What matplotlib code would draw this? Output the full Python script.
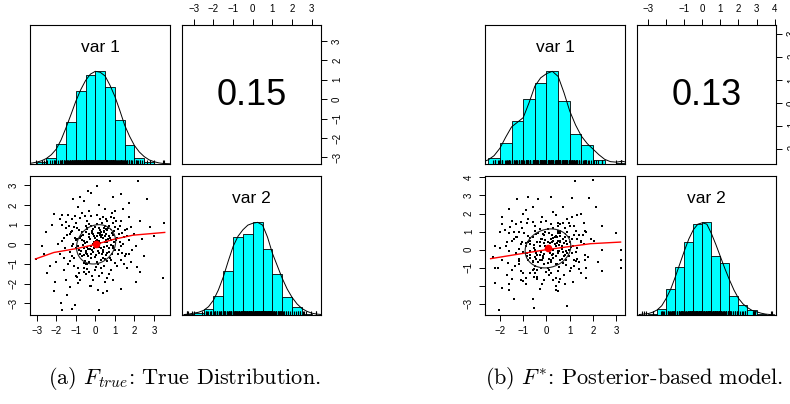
import numpy as np
import matplotlib.pyplot as plt

plt.rcParams['font.family'] = ['Liberation Sans', 'DejaVu Sans']
plt.rcParams['mathtext.fontset'] = 'cm'

# ---------------- (a) F_true : True Distribution ----------------
pts_a = [
    (0.1, 0.2), (-0.3, 0.5), (0.4, -0.3), (-0.6, -0.2), (0.7, 0.4), (0.2, 0.8), (-0.2, -0.7), (0.5, 0.1), (-0.8, 0.3), (0.3, -0.8),
    (-0.1, 0.0), (0.6, 0.7), (-0.5, 0.6), (0.9, -0.2), (-0.4, -0.5), (0.15, -0.35), (-0.7, -0.6), (0.8, 0.2), (0.0, 0.9), (-0.9, -0.1),
    (0.35, 0.45), (-0.25, 0.25), (0.55, -0.55), (-0.45, 0.1), (0.05, -0.55), (0.7, -0.4), (-0.15, 0.65), (0.45, 0.85), (-0.65, 0.45), (0.25, 0.05),
    (-0.35, -0.25), (0.85, 0.55), (-0.05, 0.4), (0.6, -0.1), (-0.55, -0.85), (0.1, -0.9), (-0.85, 0.7), (0.4, 0.3), (-0.2, -0.1), (0.95, 0.1),
    (0.3, 0.6), (-0.75, -0.35), (0.2, -0.15), (-0.4, 0.85), (0.65, 0.25), (-0.1, -0.4), (0.5, -0.75), (-0.6, 0.15), (0.75, -0.7), (0.0, 0.3),
    (-0.3, -0.9), (0.15, 0.55), (-0.95, 0.25), (0.55, 0.5), (-0.2, 0.95), (0.35, -0.5), (-0.5, -0.45), (0.8, -0.05), (-0.05, -0.2), (0.45, 0.65),
    (0.05, 0.15), (-0.15, 0.55), (0.45, -0.15), (-0.65, -0.05), (0.75, 0.3), (0.25, 0.7), (-0.35, -0.6), (0.55, 0.2), (-0.75, 0.4), (0.4, -0.7),
    (-0.05, 0.1), (0.65, 0.85), (-0.45, 0.75), (1.0, -0.3), (-0.5, -0.35), (0.2, -0.45), (-0.8, -0.5), (0.9, 0.45), (0.1, 1.05), (-1.0, -0.2),
    (0.3, 0.35), (-0.3, 0.35), (0.6, -0.45), (-0.55, 0.05), (0.0, -0.65), (0.85, -0.5), (-0.1, 0.75), (0.5, 0.95), (-0.7, 0.6), (0.2, 0.15),
    (-0.4, -0.15), (0.95, 0.65), (-0.1, 0.5), (0.7, -0.2), (-0.6, -0.95), (0.15, -1.0), (-0.95, 0.8), (0.5, 0.4), (-0.25, -0.25), (1.05, 0.2),
    (0.25, 0.45), (-0.85, -0.3), (0.3, -0.2), (-0.5, 0.95), (0.6, 0.1), (-0.2, -0.5), (0.6, -0.85), (-0.7, 0.2), (0.8, -0.8), (0.1, 0.4),
    (-0.4, -1.0), (0.25, 0.55), (-1.05, 0.3), (0.45, 0.6), (-0.3, 1.05), (0.4, -0.4), (-0.6, -0.55), (0.9, -0.1), (-0.15, -0.3), (0.55, 0.75),
    (1.2, 0.5), (-1.3, -0.4), (0.4, 1.4), (-0.5, -1.5), (1.5, -0.6), (-1.1, 0.9), (0.9, 1.1), (-0.9, -1.2), (1.7, 0.2), (-1.6, 0.3),
    (0.2, -1.6), (-0.3, 1.7), (1.3, 1.2), (-1.4, -1.0), (1.1, -1.1), (-1.2, 1.3), (1.8, 0.9), (-1.8, -0.5), (0.7, -1.5), (-0.7, 1.6),
    (1.4, 0.0), (-1.5, 0.8), (0.0, -1.3), (0.1, 1.5), (1.6, -1.2), (-1.0, -1.6), (1.0, 1.7), (-1.7, 1.0), (1.9, -0.3), (-1.9, 0.0),
    (0.5, -1.9), (-0.4, 1.2), (1.2, -0.3), (-1.2, -0.1), (0.8, 1.4), (-0.8, -1.8), (1.5, 0.7), (-1.3, 0.5), (0.3, -1.2), (-0.1, -1.8),
    (1.1, 0.3), (-1.1, -0.7), (0.6, 1.2), (-0.6, -1.2), (1.3, -0.8), (-1.4, 1.5), (1.7, 1.4), (-1.6, -1.3), (0.9, -1.8), (-0.9, 1.9),
    (2.0, 0.5), (-2.0, -0.9), (0.2, 2.0), (-0.2, -2.1), (1.0, 0.9), (-1.0, 0.2), (0.5, 1.8), (-0.5, -1.0), (1.4, 1.8), (-1.5, -1.8),
    (1.8, -0.9), (-1.8, 1.3), (0.7, 0.95), (-0.3, -1.4), (1.25, 0.1), (-1.25, 0.6), (0.35, 1.1), (-0.45, -1.25), (1.6, 0.4), (-1.55, -0.2),
    (1.15, 0.75), (-1.2, -0.6), (0.55, 1.3), (-0.6, -1.4), (1.35, -0.45), (-1.0, 1.1), (1.05, 1.2), (-1.1, -1.1), (1.45, 0.35), (-1.45, 0.45),
    (0.35, -1.45), (-0.2, 1.45), (1.25, 0.95), (-1.3, -0.85), (1.0, -0.95), (-1.05, 1.45), (1.6, 0.75), (-1.6, -0.7), (0.8, -1.3), (-0.8, 1.35),
    (1.3, -0.1), (-1.35, 0.95), (0.05, -1.15), (0.25, 1.3), (1.45, -1.0), (-0.85, -1.45), (0.85, 1.6), (-1.5, 1.15), (1.7, -0.5), (-1.7, 0.15),
    (0.6, -1.7), (-0.55, 1.45), (1.15, -0.5), (-1.15, 0.0), (0.95, 1.35), (-0.95, -1.65), (1.35, 0.55), (-1.2, 0.65), (0.45, -1.1), (-0.15, -1.6),
    (0.75, 3.2), (2.2, 3.2), (0.07, 2.95), (-0.36, 2.7), (-1.16, 2.3), (-0.79, 2.41), (2.63, 2.29), (1.3, 2.53), (-2.1, 1.56), (-1.69, 1.48),
    (-2.54, 0.6), (-2.74, -0.1), (-3.05, -0.77), (-2.49, -1.48), (-2.06, -1.9), (-2.1, -2.37), (-1.47, -2.58), (-1.76, -2.97), (-1.72, -3.35),
    (-1.04, -3.09), (-1.2, -3.3), (0.19, -3.35), (0.15, -2.33), (0.4, -2.5), (-0.9, -1.95), (-0.26, -2.1), (2.12, -1.15), (2.28, -1.4),
    (3.44, -1.74), (3.53, 1.06), (3.0, 0.4), (2.4, 0.25), (2.1, -0.1), (1.55, -0.5),
    (2.3, 1.2), (-2.3, -1.1), (2.1, -1.9), (-2.2, 1.0), (0.9, 2.4), (-0.6, 2.2), (1.7, 2.1), (-1.3, -2.2), (2.5, -0.6), (-2.6, -0.5),
    (0.6, -2.4), (-0.2, 2.6), (1.3, -2.3), (2.8, 0.9),
]
r_a = "0.15"
r_val_a = 0.15
sd_a = (1.0, 1.0)
lim1_a = (-3.34, 3.82)
lim2_a = (-3.6, 3.47)
ticks1_a = [-3, -2, -1, 0, 1, 2, 3]
ticks2_a = [-3, -2, -1, 0, 1, 2, 3]
labels1_a = ["−3", "−2", "−1", "0", "1", "2", "3"]
labels2_a = ["−3", "−2", "−1", "0", "1", "2", "3"]

breaks_a1 = [-3.5, -3.0, -2.5, -2.0, -1.5, -1.0, -0.5, 0.0, 0.5, 1.0, 1.5, 2.0, 2.5, 3.0, 3.5]
hist_a1 = [0.005, 0.025, 0.07, 0.22, 0.45, 0.79, 0.96, 1.0, 0.83, 0.47, 0.21, 0.07, 0.025, 0.005]
breaks_a2 = [-3.5, -3.0, -2.5, -2.0, -1.5, -1.0, -0.5, 0.0, 0.5, 1.0, 1.5, 2.0, 2.5, 3.0, 3.5]
hist_a2 = [0.01, 0.02, 0.06, 0.205, 0.48, 0.845, 0.875, 1.0, 0.715, 0.44, 0.19, 0.09, 0.01, 0.0]

dens_grid = [-3.5, -3.25, -3.0, -2.75, -2.5, -2.25, -2.0, -1.75, -1.5, -1.25, -1.0, -0.75, -0.5, -0.25,
             0.0, 0.25, 0.5, 0.75, 1.0, 1.25, 1.5, 1.75, 2.0, 2.25, 2.5, 2.75, 3.0, 3.25, 3.5, 3.75, 4.0]
dens_a1 = [0.005, 0.01, 0.02, 0.035, 0.06, 0.1, 0.16, 0.26, 0.39, 0.53, 0.675, 0.8, 0.9, 0.97,
           1.0, 0.99, 0.95, 0.85, 0.73, 0.58, 0.42, 0.3, 0.2, 0.13, 0.08, 0.045, 0.025, 0.012, 0.005, 0.003, 0.001]
dens_a2 = [0.005, 0.01, 0.02, 0.03, 0.05, 0.09, 0.16, 0.27, 0.41, 0.58, 0.74, 0.85, 0.92, 0.97,
           0.99, 1.0, 0.97, 0.84, 0.665, 0.53, 0.395, 0.28, 0.19, 0.12, 0.07, 0.04, 0.02, 0.01, 0.005, 0.002, 0.001]

loess_a_x = [-3.06, -2.12, -0.9, 0.0, 0.99, 1.93, 3.55]
loess_a_y = [-0.75, -0.42, -0.21, -0.01, 0.26, 0.46, 0.6]

# ---------------- (b) F* : Posterior-based model ----------------
pts_b = [
    (0.2, 0.1), (-0.4, 0.4), (0.5, -0.2), (-0.7, -0.3), (0.6, 0.5), (0.1, 0.9), (-0.1, -0.8), (0.4, 0.2), (-0.9, 0.2), (0.2, -0.7),
    (0.0, 0.1), (0.7, 0.6), (-0.6, 0.7), (0.8, -0.3), (-0.3, -0.6), (0.25, -0.3), (-0.6, -0.7), (0.9, 0.3), (-0.05, 1.0), (-0.85, -0.2),
    (0.3, 0.5), (-0.3, 0.2), (0.6, -0.6), (-0.5, 0.0), (0.1, -0.5), (0.75, -0.35), (-0.2, 0.6), (0.5, 0.9), (-0.7, 0.5), (0.3, 0.0),
    (-0.4, -0.3), (0.8, 0.7), (-0.1, 0.35), (0.55, -0.05), (-0.5, -0.9), (0.05, -1.0), (-0.8, 0.75), (0.45, 0.35), (-0.25, -0.15), (0.95, 0.0),
    (0.35, 0.7), (-0.7, -0.45), (0.15, -0.2), (-0.35, 0.95), (0.65, 0.2), (-0.15, -0.45), (0.45, -0.8), (-0.55, 0.25), (0.7, -0.75), (0.05, 0.45),
    (-0.25, -1.0), (0.2, 0.6), (-0.9, 0.35), (0.6, 0.45), (-0.15, 0.85), (0.3, -0.45), (-0.45, -0.5), (0.85, -0.1), (-0.1, -0.25), (0.4, 0.75),
    (0.1, 0.2), (-0.25, 0.6), (0.5, -0.1), (-0.7, -0.1), (0.75, 0.35), (0.25, 0.8), (-0.35, -0.7), (0.55, 0.25), (-0.8, 0.45), (0.4, -0.8),
    (-0.05, 0.2), (0.6, 0.9), (-0.45, 0.85), (0.95, -0.35), (-0.5, -0.4), (0.2, -0.55), (-0.8, -0.55), (0.85, 0.5), (0.05, 1.15), (-1.0, -0.15),
    (0.35, 0.3), (-0.3, 0.4), (0.65, -0.5), (-0.55, 0.1), (0.05, -0.75), (0.85, -0.55), (-0.1, 0.8), (0.5, 1.05), (-0.7, 0.65), (0.2, 0.1),
    (-0.45, -0.2), (0.95, 0.7), (-0.05, 0.55), (0.7, -0.15), (-0.55, -1.05), (0.1, -1.1), (-0.95, 0.9), (0.5, 0.5), (-0.3, -0.3), (1.05, 0.15),
    (0.25, 0.4), (-0.85, -0.35), (0.3, -0.25), (-0.5, 1.05), (0.65, 0.05), (-0.2, -0.55), (0.55, -0.95), (-0.7, 0.3), (0.85, -0.85), (0.15, 0.35),
    (-0.4, -1.1), (0.3, 0.65), (-1.05, 0.4), (0.45, 0.7), (-0.3, 1.15), (0.4, -0.35), (-0.6, -0.65), (0.9, -0.2), (-0.15, -0.35), (0.6, 0.75),
    (1.1, 0.6), (-1.2, -0.5), (0.5, 1.5), (-0.4, -1.6), (1.4, -0.7), (-1.2, 1.0), (0.8, 1.2), (-1.0, -1.3), (1.6, 0.3), (-1.7, 0.4),
    (0.3, -1.7), (-0.2, 1.8), (1.2, 1.3), (-1.5, -1.1), (1.0, -1.2), (-1.3, 1.4), (1.7, 1.0), (-1.9, -0.6), (0.6, -1.6), (-0.8, 1.7),
    (1.3, 0.1), (-1.6, 0.9), (0.1, -1.4), (0.0, 1.6), (1.5, -1.3), (-1.1, -1.7), (1.1, 1.8), (-1.8, 1.1), (1.8, -0.4), (-2.0, 0.1),
    (0.4, -2.0), (-0.5, 1.3), (1.1, -0.2), (-1.3, -0.2), (0.7, 1.5), (-0.9, -1.9), (1.4, 0.8), (-1.4, 0.6), (0.2, -1.3), (-0.2, -1.9),
    (1.0, 0.4), (-1.2, -0.8), (0.5, 1.3), (-0.7, -1.3), (1.2, -0.9), (-1.5, 1.6), (1.6, 1.5), (-1.7, -1.4), (0.8, -1.9), (-1.0, 2.0),
    (1.9, 0.6), (-2.1, -1.0), (0.3, 2.1), (-0.3, -2.2), (0.9, 1.0), (-1.1, 0.3), (0.4, 1.9), (-0.6, -1.1), (1.3, 1.9), (-1.6, -1.9),
    (1.7, -1.0), (-1.9, 1.4), (0.6, 1.05), (-0.4, -1.5), (1.15, 0.2), (-1.3, 0.7), (0.3, 1.2), (-0.5, -1.3), (1.5, 0.5), (-1.6, -0.1),
    (1.2, 0.8), (-1.2, -0.65), (0.6, 1.4), (-0.55, -1.5), (1.3, -0.5), (-1.05, 1.2), (1.0, 1.3), (-1.1, -1.2), (1.5, 0.4), (-1.5, 0.5),
    (0.4, -1.55), (-0.25, 1.55), (1.25, 1.05), (-1.35, -0.9), (1.05, -1.0), (-1.1, 1.55), (1.55, 0.8), (-1.65, -0.75), (0.75, -1.4), (-0.85, 1.45),
    (1.25, -0.15), (-1.4, 1.0), (0.0, -1.25), (0.2, 1.4), (1.4, -1.05), (-0.9, -1.55), (0.9, 1.7), (-1.55, 1.25), (1.65, -0.55), (-1.75, 0.2),
    (0.55, -1.8), (-0.6, 1.55), (1.2, -0.55), (-1.2, 0.05), (0.95, 1.45), (-1.0, -1.75), (1.3, 0.6), (-1.25, 0.7), (0.5, -1.2), (-0.1, -1.7),
    (1.24, 3.81), (2.0, 3.85), (0.21, 2.94), (-0.8, 2.94), (-1.26, 2.8), (-0.38, 2.8), (1.1, 2.85), (1.82, 2.85), (-1.62, 2.24), (-1.93, 1.81),
    (-0.6, 2.35), (0.69, 2.35), (2.12, 2.35), (2.39, 1.31), (3.0, 0.94), (3.18, 0.0), (3.18, -0.6), (3.18, -1.0), (2.39, -1.2), (2.4, 0.0),
    (-2.22, 0.2), (-2.22, -1.0), (-2.19, -1.87), (-1.93, -2.1), (-1.62, -2.25), (-1.4, -2.76), (-2.05, -3.32), (-0.57, -2.76), (-0.54, -3.22),
    (0.39, -2.26), (0.89, -3.13), (1.15, -1.81), (1.71, -1.55), (1.64, -0.28), (1.28, -0.65), (2.03, 0.48), (1.64, 1.04),
    (-2.0, 1.0), (-1.5, -1.6), (2.2, -0.7), (0.5, -2.3), (-0.9, 2.2), (1.5, 2.0), (-2.3, -0.4),
]
r_b = "0.13"
r_val_b = 0.13
sd_b = (0.98, 1.08)
lim1_b = (-2.64, 3.37)
lim2_b = (-3.62, 4.08)
ticks1_b = [-2, -1, 0, 1, 2, 3]
ticks2_b = [-3, -2, -1, 0, 1, 2, 3, 4]
labels1_b = ["−2", "−1", "0", "1", "2", "3"]
labels2_b = ["−3", "", "−1", "0", "1", "2", "3", "4"]

breaks_b1 = [-2.5, -2.0, -1.5, -1.0, -0.5, 0.0, 0.5, 1.0, 1.5, 2.0, 2.5, 3.0, 3.5]
hist_b1 = [0.06, 0.225, 0.46, 0.70, 0.875, 1.0, 0.685, 0.32, 0.205, 0.045, 0.0, 0.008]
breaks_b2 = [-3.5, -3.0, -2.5, -2.0, -1.5, -1.0, -0.5, 0.0, 0.5, 1.0, 1.5, 2.0, 2.5, 3.0, 3.5, 4.0]
hist_b2 = [0.005, 0.01, 0.07, 0.28, 0.52, 0.785, 0.98, 1.0, 0.635, 0.56, 0.205, 0.11, 0.055, 0.01, 0.005]

dens_b1 = [0.0, 0.0, 0.005, 0.02, 0.045, 0.09, 0.17, 0.29, 0.40, 0.45, 0.50, 0.66, 0.84, 0.93,
           0.975, 1.0, 0.945, 0.77, 0.57, 0.42, 0.30, 0.22, 0.16, 0.1, 0.05, 0.025, 0.02, 0.03, 0.015, 0.005, 0.0]
dens_b2 = [0.005, 0.01, 0.015, 0.03, 0.055, 0.1, 0.18, 0.28, 0.41, 0.55, 0.69, 0.82, 0.92, 0.98,
           0.995, 0.98, 0.88, 0.76, 0.63, 0.5, 0.38, 0.27, 0.18, 0.12, 0.08, 0.05, 0.035, 0.02, 0.01, 0.005, 0.002]

loess_b_x = [-2.4, -1.26, 0.0, 1.89, 3.18]
loess_b_y = [-0.5, -0.26, 0.0, 0.33, 0.42]


W, H = 790, 404
fig = plt.figure(figsize=(W / 100, H / 100), dpi=100)


def box(x0, y0, x1, y1):
    return fig.add_axes([x0 / W, 1 - y1 / H, (x1 - x0) / W, (y1 - y0) / H])


def style(ax):
    for s in ax.spines.values():
        s.set_linewidth(0.8)
    ax.tick_params(length=4.5, width=0.7, labelsize=7, pad=3.5, colors='black')
    ax.set_xticks([])
    ax.set_yticks([])


def hist_panel(ax, breaks, heights, dens, rug, lim, name):
    style(ax)
    br = np.array(breaks)
    ax.bar(br[:-1], heights, width=np.diff(br), align='edge', color='#00ffff',
           edgecolor='black', linewidth=0.6)
    ax.plot(dens_grid, dens, color='black', linewidth=0.7)
    ax.vlines(rug, 0, 0.045, color='black', linewidth=0.8)
    ax.set_xlim(lim)
    ax.set_ylim(0, 1.5)
    ax.text(0.5, 0.835, name, transform=ax.transAxes, ha='center', va='center', fontsize=12.5)


def cor_panel(ax, txt, xlim, ylim, xt, xl, yt, yl):
    style(ax)
    ax.set_xlim(xlim)
    ax.set_ylim(ylim)
    ax.xaxis.tick_top()
    ax.yaxis.tick_right()
    ax.set_xticks(xt, xl)
    ax.set_yticks(yt, yl)
    ax.tick_params(axis='y', labelrotation=90)
    for t in ax.get_yticklabels():
        t.set_va('center')
    ax.text(0.5, 0.49, txt, transform=ax.transAxes, ha='center', va='center', fontsize=26)


def scatter_panel(ax, xs, ys, xlim, ylim, xt, xl, yt, yl, r, sd, lx, ly):
    style(ax)
    ax.plot(xs, ys, linestyle='none', marker='s', markersize=1.5, markeredgewidth=0, color='black')
    ax.plot(lx, ly, color='red', linewidth=1.0)
    # correlation ellipse at one standard deviation (as in psych::pairs.panels)
    ang = np.linspace(0, 2 * np.pi, 101)
    th = np.sign(r) / np.sqrt(2)
    shape = np.diag([np.sqrt(1 + r), np.sqrt(1 - r)]) @ np.array([[th, th], [-th, th]])
    ell = np.column_stack([np.cos(ang), np.sin(ang)]) @ shape
    cx, cy = np.mean(xs), np.mean(ys)
    ax.plot(ell[:, 0] * sd[0] + cx, ell[:, 1] * sd[1] + cy, color='#222222', linewidth=0.8)
    ax.plot([cx], [cy], marker='o', markersize=5.5, color='red', markeredgewidth=0)
    ax.set_xlim(xlim)
    ax.set_ylim(ylim)
    ax.set_xticks(xt, xl)
    ax.set_yticks(yt, yl)
    ax.tick_params(axis='y', labelrotation=90)
    for t in ax.get_yticklabels():
        t.set_va('center')


for pts, r_txt, r_val, sd, lim1, lim2, t1, l1, t2, l2, b1, h1, b2, h2, d1, d2, lx, ly, x0 in [
    (pts_a, r_a, r_val_a, sd_a, lim1_a, lim2_a, ticks1_a, labels1_a, ticks2_a, labels2_a,
     breaks_a1, hist_a1, breaks_a2, hist_a2, dens_a1, dens_a2, loess_a_x, loess_a_y, 30),
    (pts_b, r_b, r_val_b, sd_b, lim1_b, lim2_b, ticks1_b, labels1_b, ticks2_b, labels2_b,
     breaks_b1, hist_b1, breaks_b2, hist_b2, dens_b1, dens_b2, loess_b_x, loess_b_y, 485),
]:
    v1 = [p[0] for p in pts]
    v2 = [p[1] for p in pts]
    hist_panel(box(x0, 25, x0 + 140, 164), b1, h1, d1, v1, lim1, "var 1")
    cor_panel(box(x0 + 152, 25, x0 + 291, 164), r_txt, lim2, lim1, t2, l2, t1, l1)
    scatter_panel(box(x0, 176, x0 + 140, 315), v1, v2, lim1, lim2, t1, l1, t2, l2, r_val, sd, lx, ly)
    hist_panel(box(x0 + 152, 176, x0 + 291, 315), b2, h2, d2, v2, lim2, "var 2")

fig.text(184 / W, 1 - 379 / H, r'(a) $F_{true}$: True Distribution.', family='cmr10',
         fontsize=16, ha='center', va='center')
fig.text(634 / W, 1 - 379 / H, r'(b) $F^{*}$: Posterior-based model.', family='cmr10',
         fontsize=16, ha='center', va='center')

fig.savefig('out.png', dpi=100)
